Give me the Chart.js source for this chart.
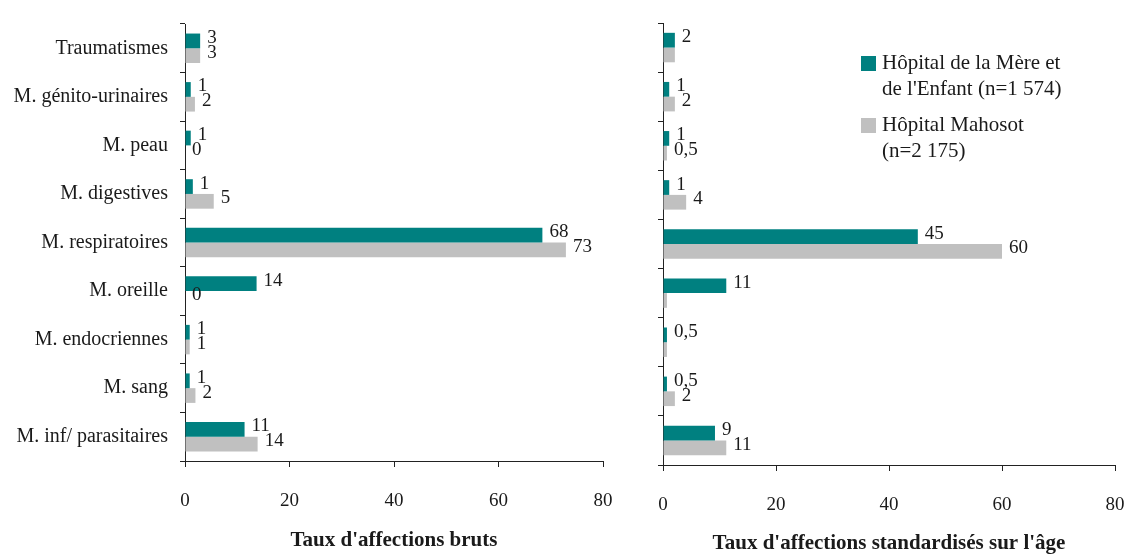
<!DOCTYPE html>
<html><head><meta charset="utf-8">
<script src="https://cdn.jsdelivr.net/npm/chart.js@4"></script>
<style>
html,body{margin:0;padding:0;background:#fff;width:1129px;height:554px;overflow:hidden;position:relative}
canvas{position:absolute;top:0}
#c1{left:0}
#c2{left:630px}
</style></head><body>
<canvas id="c1" width="640" height="554"></canvas>
<canvas id="c2" width="518" height="554"></canvas>
<script>
const categories = ["Traumatismes","M. génito-urinaires","M. peau","M. digestives","M. respiratoires","M. oreille","M. endocriennes","M. sang","M. inf/ parasitaires"];
const seriesNames = [["Hôpital de la Mère et","de l'Enfant (n=1 574)"],["Hôpital Mahosot","(n=2 175)"]];
const brutsHME = [2.9,1.1,1.1,1.5,68.4,13.7,0.9,0.9,11.4];
const brutsMahosot = [2.9,1.9,0,5.5,72.9,0,0.9,2.0,13.9];
const brutsLabelsHME = ["3","1","1","1","68","14","1","1","11"];
const brutsLabelsMahosot = ["3","2","0","5","73","0","1","2","14"];
const stdHME = [2.1,1.1,1.1,1.1,45.1,11.2,0.7,0.7,9.2];
const stdMahosot = [2.1,2.1,0.7,4.1,60,0.7,0.7,2.1,11.2];
const stdLabelsHME = ["2","1","1","1","45","11","0,5","0,5","9"];
const stdLabelsMahosot = [null,"2","0,5","4","60",null,null,"2","11"];
const xMin = 0, xMax = 80, xStep = 20;
const axisTitles = ["Taux d'affections bruts","Taux d'affections standardisés sur l'âge"];

const FONT = '"Liberation Serif", "DejaVu Serif", serif';
const TEXT = '#1a1a1a';
const AXIS = '#222';
const TEAL = '#008080';
const GRAY = '#c0c0c0';

const valueLabels = {
  id: 'valueLabels',
  afterDatasetsDraw(chart, args, opts) {
    const ctx = chart.ctx;
    ctx.save();
    ctx.font = '19px ' + FONT;
    ctx.fillStyle = TEXT;
    ctx.textBaseline = 'middle';
    ctx.textAlign = 'left';
    (opts.texts || []).forEach((arr, i) => {
      const meta = chart.getDatasetMeta(i);
      meta.data.forEach((el, j) => {
        const t = arr[j];
        if (t == null) return;
        ctx.fillText(t, el.x + 7, el.y - 3);
      });
    });
    ctx.restore();
  }
};

const boxLegend = {
  id: 'boxLegend',
  afterDraw(chart, args, opts) {
    if (!opts.names) return;
    const ctx = chart.ctx;
    ctx.save();
    ctx.font = '21px ' + FONT;
    ctx.textBaseline = 'middle';
    ctx.textAlign = 'left';
    opts.names.forEach((lines, i) => {
      const y0 = opts.y + i * opts.gap;
      ctx.fillStyle = chart.data.datasets[i].backgroundColor;
      ctx.fillRect(opts.x, y0, 15, 15);
      ctx.fillStyle = TEXT;
      lines.forEach((line, k) => ctx.fillText(line, opts.x + 21, y0 + 7 + k * 26));
    });
    ctx.restore();
  }
};

function makeChart(id, hme, mah, lblH, lblM, title, cfg) {
  return new Chart(document.getElementById(id), {
    type: 'bar',
    data: {
      labels: categories,
      datasets: [
        { label: seriesNames[0].join(' '), data: hme, backgroundColor: TEAL, categoryPercentage: cfg.catPct, barPercentage: 1 },
        { label: seriesNames[1].join(' '), data: mah, backgroundColor: GRAY, categoryPercentage: cfg.catPct, barPercentage: 1 }
      ]
    },
    options: {
      indexAxis: 'y',
      responsive: false,
      animation: false,
      layout: { padding: { left: 0, right: cfg.padRight, top: cfg.padTop, bottom: cfg.padBottom } },
      plugins: {
        legend: { display: false },
        tooltip: { enabled: false },
        valueLabels: { texts: [lblH, lblM] },
        boxLegend: cfg.legend || {}
      },
      scales: {
        x: {
          min: xMin, max: xMax,
          ticks: { stepSize: xStep, color: TEXT, font: { family: FONT, size: 19 }, padding: 23, maxRotation: 0 },
          grid: { display: true, drawOnChartArea: false, drawTicks: true, tickLength: 6, color: AXIS, lineWidth: 1 },
          border: { display: true, color: AXIS, width: 1 },
          title: { display: true, text: title, color: TEXT, font: { family: FONT, size: 21, weight: 'bold', lineHeight: 1 }, padding: 0 },
          afterFit: (s) => { s.height = cfg.xHeight; }
        },
        y: {
          ticks: { display: cfg.showY, color: TEXT, font: { family: FONT, size: 20 }, padding: 12 },
          grid: { display: true, drawOnChartArea: false, drawTicks: true, tickLength: 5, color: AXIS, lineWidth: 1, offset: true },
          border: { display: true, color: AXIS, width: 1 },
          afterFit: (s) => { s.width = cfg.yWidth; }
        }
      }
    },
    plugins: [valueLabels, boxLegend]
  });
}

makeChart('c1', brutsHME, brutsMahosot, brutsLabelsHME, brutsLabelsMahosot, axisTitles[0], {
  catPct: 0.607, padRight: 37, padTop: 16, padBottom: 3, xHeight: 90, yWidth: 185, showY: true
});
makeChart('c2', stdHME, stdMahosot, stdLabelsHME, stdLabelsMahosot, axisTitles[1], {
  catPct: 0.6, padRight: 33, padTop: 23, padBottom: 0, xHeight: 89, yWidth: 33, showY: false,
  legend: { names: seriesNames, x: 231, y: 56, gap: 62 }
});
</script>
</body></html>
